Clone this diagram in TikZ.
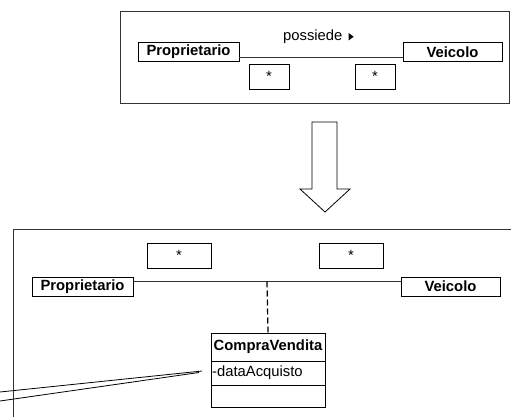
\documentclass[tikz,border=0pt]{standalone}
\usepackage{fontspec}
\setmainfont{Liberation Sans}
\begin{document}
\begin{tikzpicture}[x=1pt,y=-1pt,
  every node/.style={font=\fontsize{14.8}{17}\selectfont},
  frame/.style={draw=black!80, line width=1pt},
  cls/.style={draw, line width=0.9pt, inner sep=0pt, minimum height=19pt, font=\fontsize{14.8}{17}\selectfont\bfseries},
  mult/.style={draw, line width=0.8pt, inner sep=0pt},
  assoc/.style={draw=black!80, line width=0.8pt},
  link/.style={draw, line width=1.2pt, dash pattern=on 6pt off 3pt},
  lbl/.style={inner sep=0pt}]
\useasboundingbox (0,0) rectangle (511,417);
\clip (0,0) rectangle (511,417);
% ---------- top diagram ----------
\draw[frame] (120,12) rectangle (509,104);
\node[cls, minimum width=101pt] (p1) at (188.5,52) {Proprietario};
\node[cls, minimum width=99pt] (v1) at (452.5,52) {Veicolo};
\draw[assoc] ([yshift=-5pt]p1.east) -- ([yshift=-5pt]v1.west);
\node[mult, minimum width=40pt, minimum height=25pt] (m1) at (269,76.5) {*};
\node[mult, minimum width=40pt, minimum height=25pt] (m2) at (375,76.5) {*};
\node[lbl, anchor=west] (name) at (283,37) {possiede};
\fill ([xshift=6pt,yshift=4pt]name.east) -- ++(0,7.5) -- ++(5,-3.75) -- cycle;
% ---------- transformation arrow ----------
\draw[line width=0.8pt] (312,122) -- (337,122) -- (337,189) -- (350,189) -- (325,212) -- (300,189) -- (312,189) -- cycle;
% ---------- bottom diagram ----------
\draw[frame] (13,430) -- (13,229) -- (520,229);
\node[cls, minimum width=101pt] (p2) at (82.5,286.5) {Proprietario};
\node[cls, minimum width=99pt] (v2) at (450.5,286.5) {Veicolo};
\coordinate (j) at (267,281.5);
\draw[assoc] ([yshift=5pt]p2.east) -- (j) -- ([yshift=5pt]v2.west);
\node[mult, minimum width=64pt, minimum height=25pt] (m3) at (179,255.5) {*};
\node[mult, minimum width=64pt, minimum height=25pt] (m4) at (351,255.5) {*};
% association class
\node[draw, line width=0.9pt, minimum width=114pt, minimum height=74pt, inner sep=0pt] (cv) at (268,370) {};
\draw[line width=0.8pt] (211,361) -- (325,361);
\draw[line width=0.8pt] (211,385) -- (325,385);
\node[lbl, font=\fontsize{14.8}{17}\selectfont\bfseries] (cvt) at (268,347) {CompraVendita};
\node[lbl, anchor=west] (attr) at (212,373) {-dataAcquisto};
\draw[link] (j) -- (cv.north);
% callout tail
\coordinate (t1) at (0,392);
\coordinate (t2) at (0,401);
\coordinate (tp1) at (202,371);
\coordinate (tp2) at (199,372.5);
\draw[line width=0.8pt] (t1) -- (tp1);
\draw[line width=0.8pt] (t2) -- (tp2);
\end{tikzpicture}
\end{document}
